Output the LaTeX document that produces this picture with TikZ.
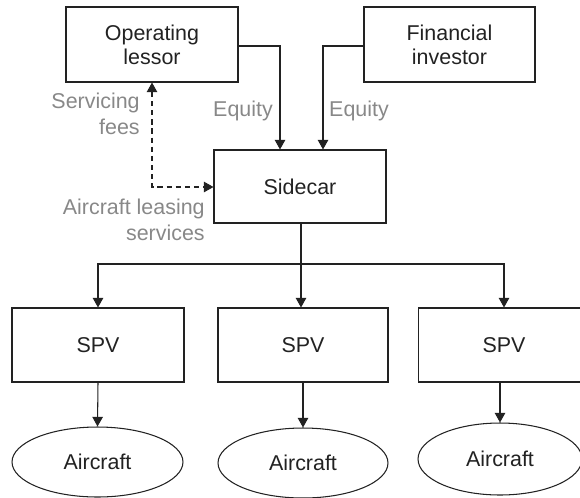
\documentclass[tikz,border=0pt]{standalone}
\usepackage{fontspec}
\setmainfont{Liberation Sans}
\usetikzlibrary{arrows.meta,shapes.geometric}
\definecolor{ink}{HTML}{222222}
\definecolor{note}{HTML}{888888}
\begin{document}
\begin{tikzpicture}[x=0.02cm,y=-0.02cm,
  every node/.style={font=\fontsize{12.2}{13.8}\selectfont, text=ink},
  box/.style={draw=ink, line width=0.6pt, rectangle, align=center, inner sep=0pt},
  oval/.style={draw=ink, line width=0.6pt, ellipse, inner sep=0pt},
  lbl/.style={text=note, inner sep=0pt, font=\fontsize{12.2}{14.6}\selectfont},
  link/.style={draw=ink, line width=0.6pt, -{Triangle[length=5.5pt,width=6pt]}},
  both/.style={draw=ink, line width=0.6pt, dash pattern=on 3pt off 2.2pt,
    {Triangle[length=5.5pt,width=6pt]}-{Triangle[length=5.5pt,width=6pt]}}]
\useasboundingbox (0,0) rectangle (580,497);
\clip (0,0) rectangle (580,497);

% top row
\node[box, minimum width=3.44cm, minimum height=1.5cm] (lessor) at (152,44.5) {Operating\\lessor};
\node[box, minimum width=3.42cm, minimum height=1.5cm] (investor) at (449.5,44.5) {Financial\\investor};
\node[box, minimum width=3.44cm, minimum height=1.46cm] (sidecar) at (300,186.5) {Sidecar};

% vehicles
\node[box, minimum width=3.44cm, minimum height=1.48cm] (spv1) at (98,345) {SPV};
\node[box, minimum width=3.40cm, minimum height=1.48cm] (spv2) at (303,345) {SPV};
\node[box, minimum width=3.44cm, minimum height=1.48cm] (spv3) at (504,345) {SPV};

% aircraft
\node[oval, minimum width=3.42cm, minimum height=1.40cm] (ac1) at (97.5,462) {Aircraft};
\node[oval, minimum width=3.40cm, minimum height=1.40cm] (ac2) at (303,463) {Aircraft};
\node[oval, minimum width=3.28cm, minimum height=1.44cm] (ac3) at (500,459) {Aircraft};

% equity flows
\coordinate (eqL) at (280,46);
\coordinate (eqR) at (323,46);
\draw[link] (lessor.east |- eqL) -- (eqL) -- (eqL |- sidecar.north);
\draw[link] (investor.west |- eqR) -- (eqR) -- (eqR |- sidecar.north);
\node[lbl] (eqlabL) at (243,111) {Equity};
\node[lbl] (eqlabR) at (359,111) {Equity};

% services and fees
\coordinate (svc) at (152,187);
\draw[both] (lessor.south) -- (svc) -- (sidecar.west |- svc);
\node[lbl, align=right, anchor=east] (fees) at (140,114) {Servicing\\fees};
\node[lbl, align=right, anchor=east] (leasing) at (205,220) {Aircraft leasing\\services};

% distribution to vehicles
\coordinate (split) at (301,264);
\draw[draw=ink, line width=0.6pt] (sidecar.south -| split) -- (split);
\draw[link] (split) -- (split -| spv1) -- (spv1.north);
\draw[link] (split) -- (split -| spv3) -- (spv3.north);
\draw[link] (split) -- (split |- spv2.north);

% vehicles to aircraft
\draw[link] (spv1.south) -- (ac1.north);
\draw[link] (spv2.south) -- (ac2.north);
\draw[link] (spv3.south -| ac3.north) -- (ac3.north);
\end{tikzpicture}
\end{document}
